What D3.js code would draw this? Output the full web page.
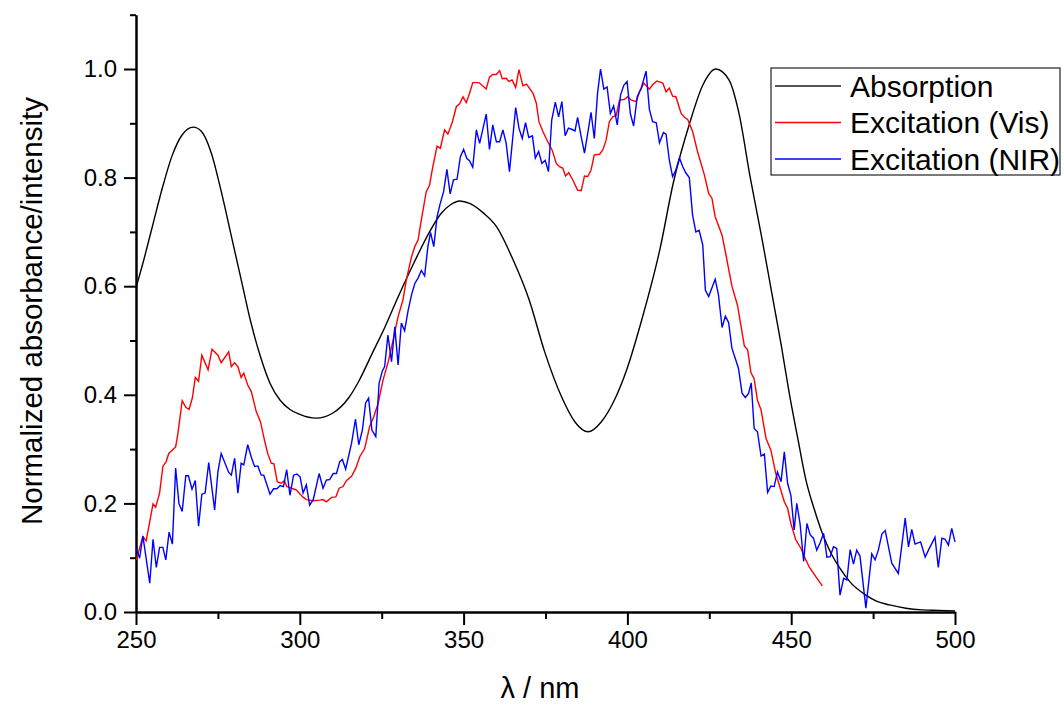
<!DOCTYPE html>
<html>
<head>
<meta charset="utf-8">
<script src="https://cdn.jsdelivr.net/npm/d3@7"></script>
<style>
  body { margin: 0; background: #fff; }
  svg text { font-family: "Liberation Sans", Arial, sans-serif; }
</style>
</head>
<body>
<div id="chart"></div>
<script>
// Absorption spectrum (black)
var absX = [250,252,255,258,261,264,267.5,270,273,276,279,282,285,288,291,294,297,300,305,310,315,318,322,326,330,335,339.6,343,346,348.8,352,356,360,365,370,374.7,380,384,388,392,396,400,404,410,414,419,423,427,431,434,437.5,441,444,447,449.4,452,454.5,457,459.5,462,464.6,468,472.8,476,480,485,490,495,500];
var absY = [0.597,0.64,0.71,0.78,0.84,0.878,0.893,0.885,0.845,0.775,0.695,0.615,0.535,0.47,0.42,0.39,0.373,0.364,0.357,0.366,0.395,0.425,0.475,0.525,0.58,0.645,0.70,0.733,0.75,0.757,0.752,0.735,0.71,0.65,0.575,0.48,0.395,0.35,0.332,0.35,0.39,0.45,0.53,0.67,0.79,0.90,0.97,1.0,0.98,0.92,0.80,0.69,0.59,0.49,0.403,0.32,0.243,0.19,0.145,0.11,0.083,0.055,0.031,0.02,0.013,0.007,0.004,0.003,0.002];

// Excitation (Vis) (red)
var visX = [250.1,252.1,253.1,255.2,256,257.2,258.2,259.2,260,262.1,262.8,264.1,265.2,266.2,267.2,268.1,269.1,270.1,272,273.2,275,276,278.3,279.1,280.1,281.1,282.1,282.9,284.1,285.2,286.7,288,289.2,290.2,291.3,292.1,293.1,294.3,295.3,296,297.9,298.9,300.9,302,304.1,306.1,307.1,308.1,309.7,311,312,313.2,314.2,315.8,317.1,318.3,319.8,321.3,322.6,323.9,325.4,327,328.5,330,331.5,332.5,334.1,335.1,336.1,337.1,338.6,339.6,340.6,341.9,342.9,344.2,345.2,346.6,347.8,348.8,349.8,350.8,351.8,352.8,354.7,356.9,357.9,358.9,360,361,361.8,363,363.8,364.8,365.9,366.9,368.1,369.2,371.2,372.2,373,374.2,375.7,377,378.3,379.3,380.3,381.1,382.1,383.3,384.8,385.9,386.9,387.9,388.9,389.9,391.5,392.5,393.5,394.5,395.5,396.6,397.6,399.1,400.1,401.1,402.7,403.7,405,406.7,407.7,409,410.8,411.8,412.8,413.8,414.8,416.4,417.4,418.4,419.9,421.4,423.5,424.8,425.8,426.8,428.9,430.1,431.9,433.6,435.7,436.7,437.7,438.7,439.7,440.8,442.3,443.8,445.3,447.9,448.9,449.9,451.4,453,454,455.5,457.5,459.5];
var visY = [0.096,0.139,0.131,0.199,0.193,0.219,0.268,0.277,0.292,0.304,0.329,0.389,0.377,0.373,0.394,0.432,0.425,0.473,0.446,0.484,0.473,0.459,0.479,0.452,0.459,0.452,0.432,0.44,0.418,0.406,0.369,0.35,0.317,0.292,0.274,0.273,0.24,0.237,0.242,0.231,0.227,0.225,0.212,0.207,0.205,0.206,0.207,0.203,0.211,0.212,0.228,0.231,0.242,0.25,0.265,0.286,0.301,0.341,0.36,0.384,0.427,0.461,0.501,0.544,0.575,0.611,0.654,0.673,0.685,0.722,0.774,0.786,0.82,0.858,0.854,0.888,0.88,0.903,0.931,0.936,0.949,0.938,0.955,0.975,0.975,0.963,0.985,0.99,0.99,0.997,0.982,0.983,0.977,0.98,0.966,0.999,0.969,0.972,0.955,0.937,0.903,0.885,0.866,0.851,0.826,0.82,0.817,0.803,0.809,0.796,0.777,0.776,0.803,0.802,0.814,0.842,0.843,0.851,0.869,0.903,0.912,0.915,0.943,0.944,0.949,0.943,0.94,0.958,0.974,0.963,0.971,0.978,0.974,0.958,0.965,0.95,0.949,0.918,0.911,0.907,0.885,0.848,0.805,0.771,0.762,0.728,0.694,0.657,0.6,0.565,0.49,0.483,0.441,0.429,0.39,0.372,0.32,0.298,0.255,0.203,0.191,0.163,0.133,0.117,0.102,0.083,0.065,0.048];

// Excitation (NIR) (blue)
var nirX = [250.1,251.1,252.1,254.2,255.2,256.2,257.2,258.2,259.1,260.1,261.1,262.1,263.1,264.1,265.2,266,267.1,268.1,269.1,270.1,271.1,272.2,274,275,276,278.3,279.1,280.1,281.1,282.1,282.9,284.1,285.2,286.2,287.2,288.2,289,290.9,292,293,294,295,296,297,298.1,299.1,300.1,301,302,303,304.1,305.9,307.1,308.1,309.1,310.2,311.2,312.2,313,314,315.8,317,318,319.1,320.1,321,322,323.2,324.2,325.2,325.9,326.9,328,329,330,331,332,333,334.1,335.1,336.1,337.1,338.1,339.1,339.9,340.9,341.9,342.9,343.9,344.9,345.9,346.9,348,349,350,351,351.8,352.8,353.9,354.9,356.9,357.9,358.9,360,361,362,363,364,365.9,366.9,367.9,368.9,369.9,371,371.9,372.9,373.9,374.9,375.9,376.9,378,379,380,381,382,383,384,384.8,385.9,386.9,387.9,388.9,389.9,390.9,391.8,392.8,393.8,394.8,395.8,396.9,397.9,398.9,399.9,400.9,401.9,403,404.2,405.7,406.7,407.7,408.8,409.8,411,411.8,412.8,413.8,414.8,415.9,416.9,417.9,418.9,419.9,420.9,421.9,423,423.8,424.8,426.8,427.8,428.9,429.9,430.9,431.9,433.9,435,436,437,437.8,438.7,439.7,440.8,441.8,442.8,443.8,444.8,445.8,446.9,447.9,448.9,449.9,450.9,451.7,452.7,453.8,454.8,455.8,456.8,457.8,458.8,459.9,460.9,461.9,462.9,463.9,464.9,466,467,468,469,470,471,472.8,474.6,475.6,476.6,477.7,478.7,480.7,482.7,484.8,485.8,486.8,487.8,489.5,490.9,491.9,493.9,494.9,496,497,498,499,500];
var nirY = [0.117,0.099,0.14,0.053,0.134,0.082,0.119,0.119,0.096,0.147,0.125,0.265,0.2,0.185,0.251,0.251,0.226,0.242,0.158,0.217,0.219,0.275,0.188,0.258,0.292,0.257,0.252,0.283,0.219,0.274,0.271,0.308,0.285,0.268,0.269,0.252,0.252,0.217,0.227,0.227,0.233,0.231,0.262,0.215,0.252,0.254,0.249,0.219,0.234,0.197,0.207,0.255,0.228,0.243,0.244,0.255,0.255,0.277,0.281,0.263,0.311,0.355,0.308,0.335,0.385,0.394,0.335,0.323,0.421,0.444,0.452,0.51,0.461,0.525,0.455,0.532,0.518,0.553,0.584,0.605,0.615,0.629,0.619,0.673,0.699,0.673,0.728,0.753,0.774,0.815,0.77,0.796,0.797,0.838,0.852,0.835,0.831,0.819,0.888,0.863,0.917,0.852,0.897,0.866,0.866,0.888,0.863,0.811,0.929,0.891,0.872,0.901,0.874,0.877,0.836,0.848,0.826,0.832,0.811,0.906,0.939,0.912,0.94,0.877,0.891,0.889,0.886,0.911,0.875,0.845,0.882,0.92,0.872,0.956,1.0,0.963,0.967,0.918,0.932,0.897,0.952,0.97,0.977,0.918,0.895,0.949,0.964,0.996,0.926,0.903,0.901,0.864,0.883,0.88,0.832,0.802,0.814,0.836,0.82,0.808,0.8,0.731,0.7,0.703,0.676,0.593,0.581,0.613,0.584,0.524,0.545,0.533,0.486,0.449,0.403,0.395,0.403,0.422,0.338,0.332,0.287,0.291,0.22,0.232,0.231,0.258,0.24,0.295,0.237,0.215,0.151,0.2,0.163,0.093,0.163,0.142,0.136,0.114,0.127,0.145,0.101,0.102,0.12,0.117,0.031,0.062,0.059,0.115,0.088,0.114,0.103,0.007,0.107,0.096,0.114,0.144,0.15,0.09,0.071,0.173,0.12,0.152,0.125,0.129,0.101,0.114,0.138,0.082,0.136,0.134,0.123,0.154,0.129];

var xTicks = [250, 300, 350, 400, 450, 500];
var xMinor = [275, 325, 375, 425, 475];
var yTicks = [0, 0.2, 0.4, 0.6, 0.8, 1.0];
var yMinor = [0.1, 0.3, 0.5, 0.7, 0.9, 1.1];

var seriesNames = ["Absorption", "Excitation (Vis)", "Excitation (NIR)"];
var seriesColors = ["#000000", "#ff0000", "#0000ff"];

var width = 1064, height = 706;

var svg = d3.select("#chart")
    .append("svg")
    .attr("width", width)
    .attr("height", height);

var x = d3.scaleLinear().domain([250, 500]).range([136, 955]);
var y = d3.scaleLinear().domain([0, 1.1]).range([612, 14.7]);

// sumbu x: minor lalu major
svg.append("g")
    .attr("transform", "translate(0,612)")
    .call(d3.axisBottom(x).tickValues(xMinor).tickSize(7).tickFormat(""))
    .call(function(g) { g.select(".domain").remove(); });

var gx = svg.append("g")
    .attr("transform", "translate(0,612)")
    .call(d3.axisBottom(x).tickValues(xTicks).tickSize(13).tickSizeOuter(0).tickPadding(6).tickFormat(d3.format("d")));
gx.selectAll("text").style("font-size", "24px").attr("fill", "#000");

// sumbu y
svg.append("g")
    .attr("transform", "translate(136,0)")
    .call(d3.axisLeft(y).tickValues(yMinor).tickSize(6).tickFormat(""))
    .call(function(g) { g.select(".domain").remove(); });

var gy = svg.append("g")
    .attr("transform", "translate(136,0)")
    .call(d3.axisLeft(y).tickValues(yTicks).tickSize(12).tickSizeOuter(0).tickPadding(7).tickFormat(d3.format(".1f")));
gy.selectAll("text").style("font-size", "24px").attr("fill", "#000");

svg.selectAll(".domain").attr("stroke", "#000").attr("stroke-width", 2.5);
svg.selectAll(".tick line").attr("stroke", "#000").attr("stroke-width", 2);

// garis data
var lineSmooth = d3.line().x(function(d) { return x(d[0]); }).y(function(d) { return y(d[1]); }).curve(d3.curveMonotoneX);
var lineRaw = d3.line().x(function(d) { return x(d[0]); }).y(function(d) { return y(d[1]); });

function pairs(xs, ys) { return xs.map(function(v, i) { return [v, ys[i]]; }); }

svg.append("path").datum(pairs(absX, absY))
    .attr("d", lineSmooth).attr("fill", "none")
    .attr("stroke", seriesColors[0]).attr("stroke-width", 1.4);
svg.append("path").datum(pairs(visX, visY))
    .attr("d", lineRaw).attr("fill", "none")
    .attr("stroke", seriesColors[1]).attr("stroke-width", 1.4);
svg.append("path").datum(pairs(nirX, nirY))
    .attr("d", lineRaw).attr("fill", "none")
    .attr("stroke", seriesColors[2]).attr("stroke-width", 1.4);

// label sumbu
svg.append("text")
    .attr("x", 540).attr("y", 698)
    .attr("text-anchor", "middle")
    .style("font-size", "29px")
    .text("λ / nm");

svg.append("text")
    .attr("transform", "translate(42,311) rotate(-90)")
    .attr("text-anchor", "middle")
    .style("font-size", "29.5px")
    .text("Normalized absorbance/intensity");

// legenda
var legend = svg.append("g");
legend.append("rect")
    .attr("x", 771).attr("y", 68).attr("width", 289).attr("height", 107)
    .attr("fill", "#fff").attr("stroke", "#222").attr("stroke-width", 1.2);

seriesNames.forEach(function(name, i) {
    var yy = 86 + i * 36.5;
    legend.append("line")
        .attr("x1", 775).attr("x2", 841).attr("y1", yy).attr("y2", yy)
        .attr("stroke", i === 0 ? "#555" : seriesColors[i]).attr("stroke-width", i === 0 ? 1.8 : 1.4);
    legend.append("text")
        .attr("x", 850).attr("y", yy + 10.5)
        .style("font-size", "30px")
        .text(name);
});
</script>
</body>
</html>
